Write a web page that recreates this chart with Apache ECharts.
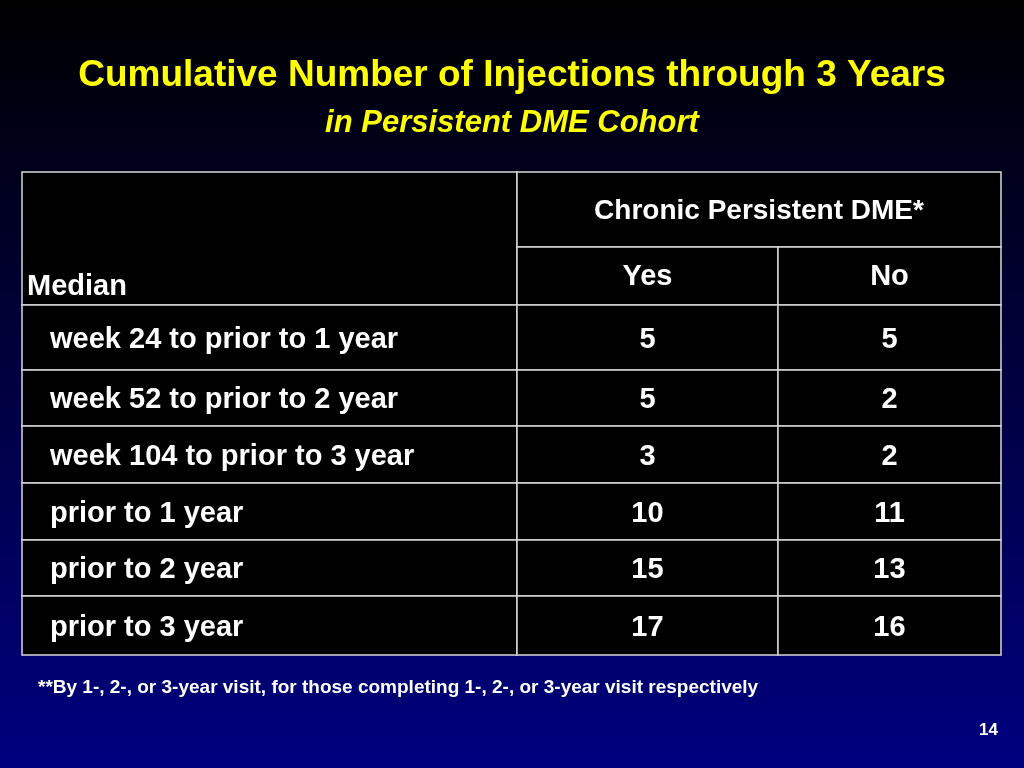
<!DOCTYPE html>
<html>
<head>
<meta charset="utf-8">
<title>Cumulative Number of Injections</title>
<script src="https://cdn.jsdelivr.net/npm/echarts@6/dist/echarts.min.js"></script>
<style>
  html, body { margin: 0; padding: 0; }
  #main { width: 1024px; height: 768px; }
</style>
</head>
<body>
<div id="main"></div>
<script>
// table data
var rowLabels = ['week 24 to prior to 1 year', 'week 52 to prior to 2 year', 'week 104 to prior to 3 year',
                 'prior to 1 year', 'prior to 2 year', 'prior to 3 year'];
var yesValues = [5, 5, 3, 10, 15, 17];
var noValues = [5, 2, 2, 11, 13, 16];
var colHeaders = ['Yes', 'No'];

var chart = echarts.init(document.getElementById('main'));

// layout
var colX = [22, 517, 778, 1001];
var rowY = [305, 370, 426, 483, 540, 596, 655];
var tableTop = 172, headSplit = 247;
var font = "'Liberation Sans', Arial, sans-serif";
var lineStyle = { stroke: '#d8d8d8', lineWidth: 1.5 };

var g = [];
function cell(x1, y1, x2, y2) {
    g.push({ type: 'rect', shape: { x: x1, y: y1, width: x2 - x1, height: y2 - y1 },
             style: { fill: '#000', stroke: lineStyle.stroke, lineWidth: lineStyle.lineWidth } });
}
function txt(str, x, y, align, size) {
    g.push({ type: 'text', x: x, y: y, style: { text: str, fill: '#fff', font: 'bold ' + (size || 29) + 'px ' + font,
             align: align || 'center', verticalAlign: 'middle' } });
}

// header cells
cell(colX[0], tableTop, colX[1], rowY[0]);
cell(colX[1], tableTop, colX[3], headSplit);
cell(colX[1], headSplit, colX[2], rowY[0]);
cell(colX[2], headSplit, colX[3], rowY[0]);
txt('Median', 27, 287, 'left');
txt('Chronic Persistent DME*', (colX[1] + colX[3]) / 2, 211, 'center', 28);
txt(colHeaders[0], (colX[1] + colX[2]) / 2, 277);
txt(colHeaders[1], (colX[2] + colX[3]) / 2, 277);

rowLabels.forEach(function (lab, i) {
    var y1 = rowY[i], y2 = rowY[i + 1], cy = (y1 + y2) / 2 + 2;
    cell(colX[0], y1, colX[1], y2);
    cell(colX[1], y1, colX[2], y2);
    cell(colX[2], y1, colX[3], y2);
    txt(lab, 50, cy, 'left');
    txt(String(yesValues[i]), (colX[1] + colX[2]) / 2, cy);
    txt(String(noValues[i]), (colX[2] + colX[3]) / 2, cy);
});

var option = {
    backgroundColor: {
        type: 'linear', x: 0, y: 0, x2: 0, y2: 1,
        colorStops: [{ offset: 0, color: '#000000' }, { offset: 1, color: '#000080' }]
    },
    title: [
        { text: 'Cumulative Number of Injections through 3 Years', left: 'center', top: 52,
          textStyle: { color: '#ffff00', fontSize: 37, fontWeight: 'bold', fontFamily: font } },
        { text: 'in Persistent DME Cohort', left: 'center', top: 103,
          textStyle: { color: '#ffff00', fontSize: 31, fontWeight: 'bold', fontStyle: 'italic', fontFamily: font } },
        { text: '**By 1-, 2-, or 3-year visit, for those completing 1-, 2-, or 3-year visit respectively',
          left: 33, top: 673, textStyle: { color: '#fff', fontSize: 19, fontWeight: 'bold', fontFamily: font } },
        { text: '14', left: 974, top: 717, textStyle: { color: '#fff', fontSize: 17, fontWeight: 'bold', fontFamily: font } }
    ],
    graphic: g
};
chart.setOption(option);
</script>
</body>
</html>
